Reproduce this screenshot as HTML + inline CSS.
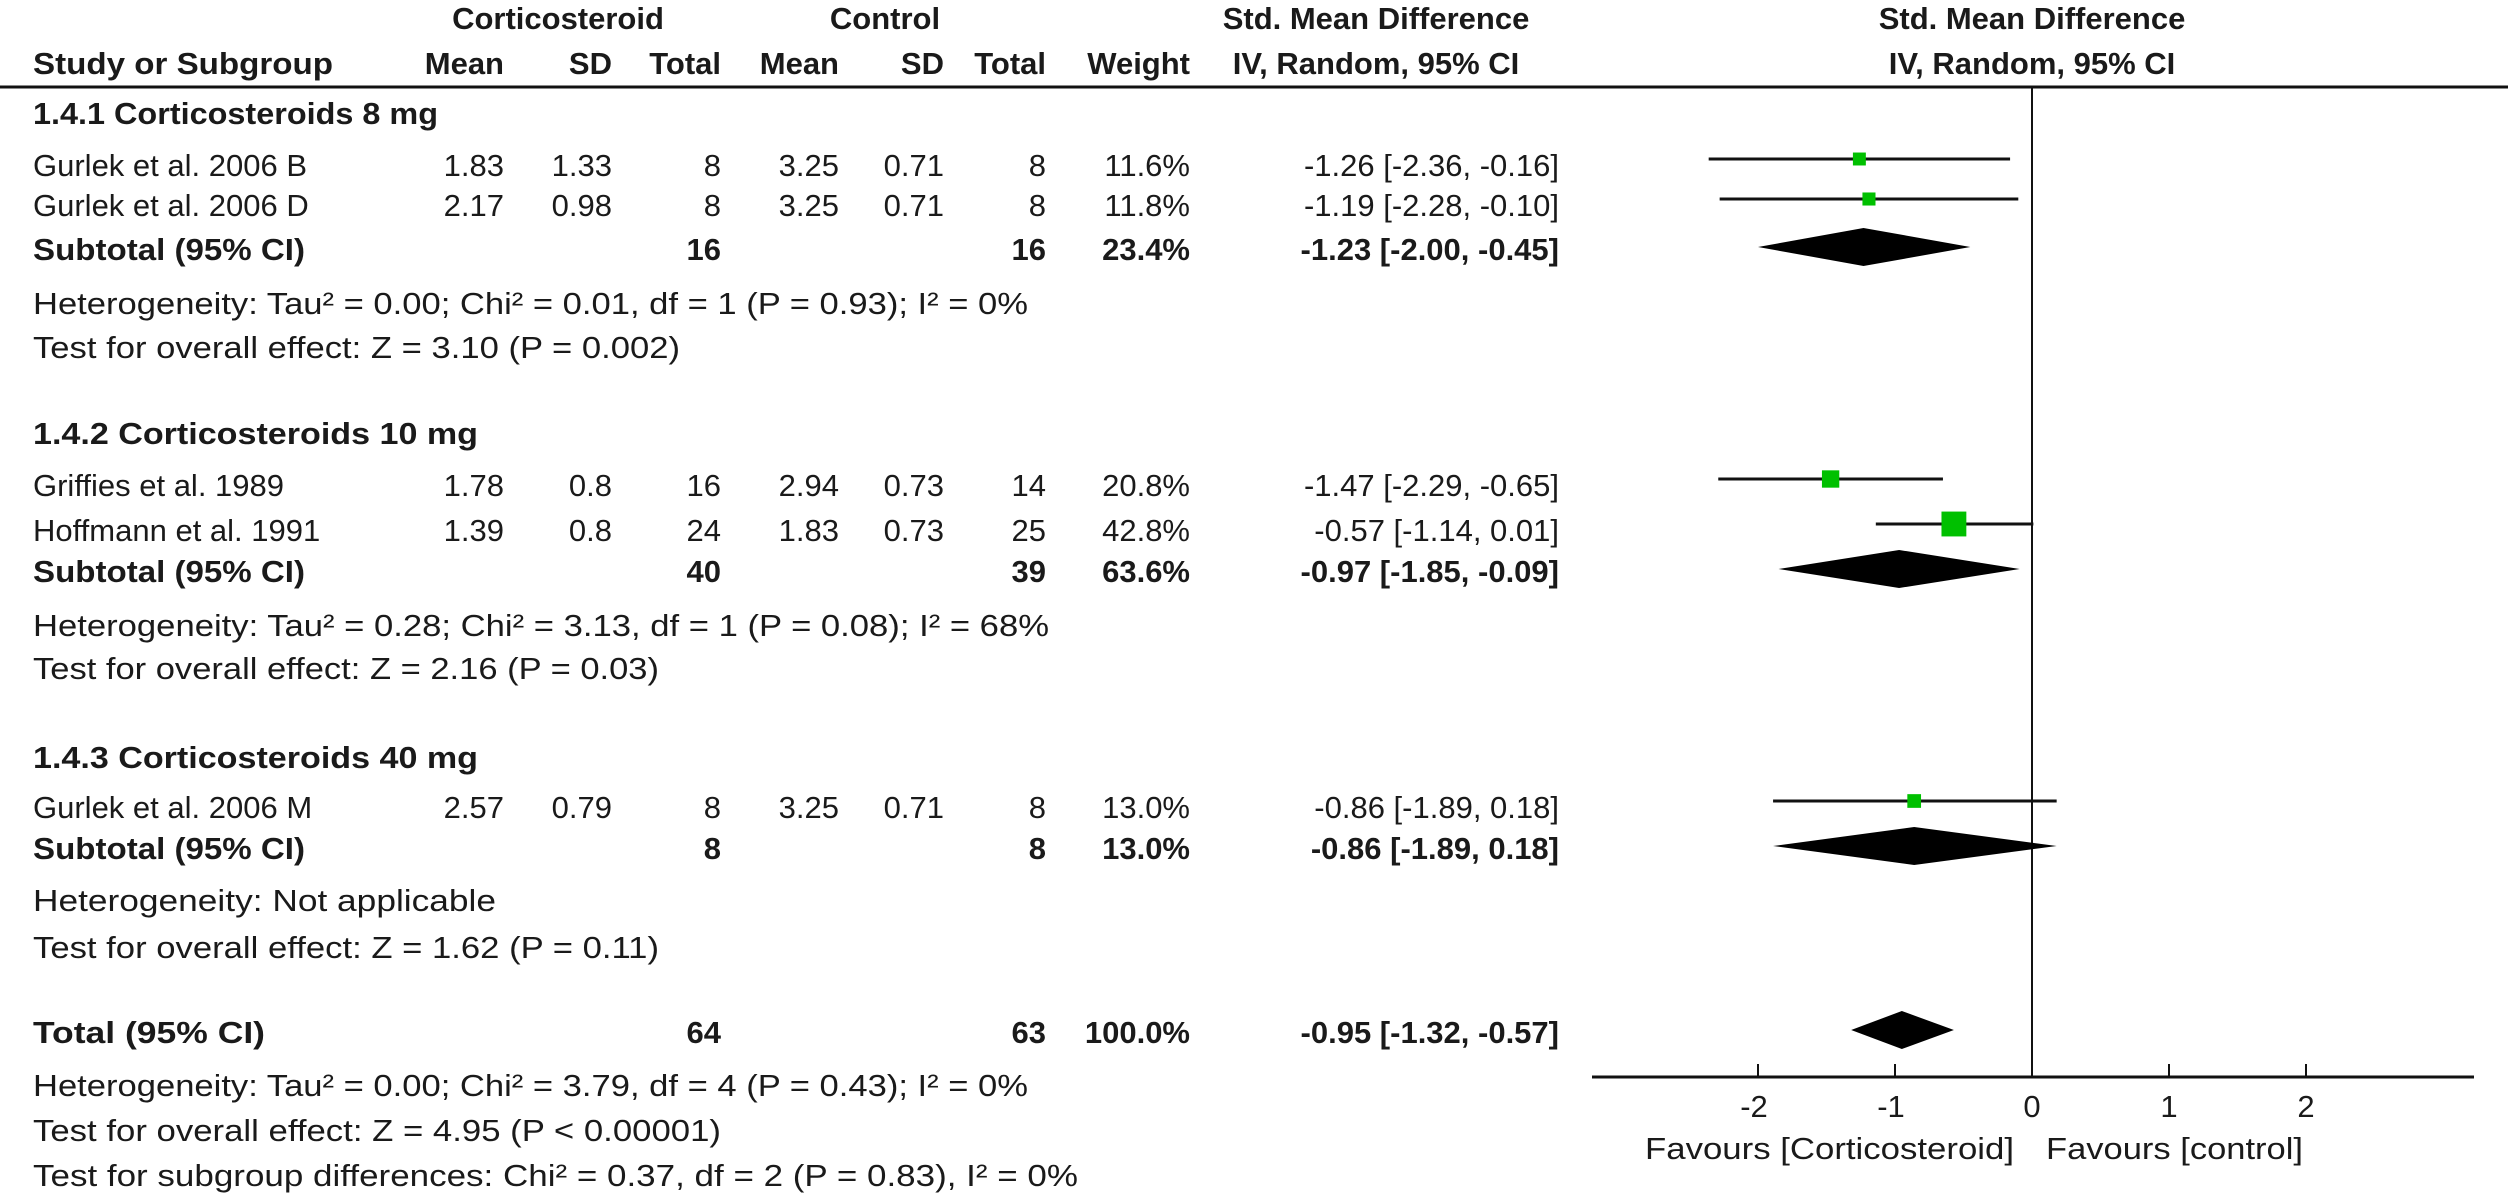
<!DOCTYPE html>
<html><head><meta charset="utf-8"><style>
html,body{margin:0;padding:0;background:#fff;}
svg{display:block;}
text{font-family:"Liberation Sans",Arial,sans-serif;fill:#1a1a1a;}
.b{font-weight:bold;}
</style></head><body>
<svg id="plot" width="2508" height="1196" viewBox="0 0 2508 1196" xmlns="http://www.w3.org/2000/svg"></svg>
<script>
// ----- data -----
const studyNames = ["Gurlek et al. 2006 B","Gurlek et al. 2006 D","Griffies et al. 1989","Hoffmann et al. 1991","Gurlek et al. 2006 M"];
const expMean = ["1.83","2.17","1.78","1.39","2.57"];
const expSD = ["1.33","0.98","0.8","0.8","0.79"];
const expN = [8,8,16,24,8];
const ctlMean = ["3.25","3.25","2.94","1.83","3.25"];
const ctlSD = ["0.71","0.71","0.73","0.73","0.71"];
const ctlN = [8,8,14,25,8];
const studyWeight = [11.6,11.8,20.8,42.8,13.0];
const studySMD = [-1.26,-1.19,-1.47,-0.57,-0.86];
const studyLo = [-2.36,-2.28,-2.29,-1.14,-1.89];
const studyHi = [-0.16,-0.10,-0.65,0.01,0.18];
const subNames = ["Subtotal (95% CI)","Subtotal (95% CI)","Subtotal (95% CI)","Total (95% CI)"];
const subExpN = [16,40,8,64];
const subCtlN = [16,39,8,63];
const subWeight = ["23.4%","63.6%","13.0%","100.0%"];
const subSMD = [-1.23,-0.97,-0.86,-0.95];
const subLo = [-2.00,-1.85,-1.89,-1.32];
const subHi = [-0.45,-0.09,0.18,-0.57];
const xTicks = [-2,-1,0,1,2];

// ----- layout -----
const svg = document.getElementById('plot');
const NS = "http://www.w3.org/2000/svg";
const X0 = 2032, UNIT = 137;
const xs = v => X0 + v*UNIT;
const FS = 31;
function el(tag, attrs, txt){
  const e = document.createElementNS(NS, tag);
  for (const k in attrs) e.setAttribute(k, attrs[k]);
  if (txt !== undefined) e.textContent = txt;
  svg.appendChild(e);
  return e;
}
function t(x, cy, s, name, opts){
  opts = opts || {};
  const a = {x:x, y:cy+11, 'font-size':opts.fs||FS};
  if (opts.anchor) a['text-anchor'] = opts.anchor;
  if (opts.bold) a['class'] = 'b';
  if (opts.len){ a.textLength = opts.len; a.lengthAdjust = 'spacingAndGlyphs'; }
  const e = el('text', a, s);
  
  
  return e;
}
function fmt(v){ return v.toFixed(2); }
function ciText(m,l,h){ return fmt(m)+" ["+fmt(l)+", "+fmt(h)+"]"; }

// headers
t(558,18,"Corticosteroid","header-corticosteroid",{anchor:'middle',bold:true});
t(885,18,"Control","header-control",{anchor:'middle',bold:true});
t(1376,18,"Std. Mean Difference","header-smd-text",{anchor:'middle',bold:true});
t(2032,18,"Std. Mean Difference","header-smd-plot",{anchor:'middle',bold:true});
t(33,63,"Study or Subgroup","header-study",{bold:true,len:300});
t(504,63,"Mean","header-exp-mean",{anchor:'end',bold:true});
t(612,63,"SD","header-exp-sd",{anchor:'end',bold:true});
t(721,63,"Total","header-exp-total",{anchor:'end',bold:true});
t(839,63,"Mean","header-ctl-mean",{anchor:'end',bold:true});
t(944,63,"SD","header-ctl-sd",{anchor:'end',bold:true});
t(1046,63,"Total","header-ctl-total",{anchor:'end',bold:true});
t(1190,63,"Weight","header-weight",{anchor:'end',bold:true});
t(1376,63,"IV, Random, 95% CI","header-ci-text",{anchor:'middle',bold:true});
t(2032,63,"IV, Random, 95% CI","header-ci-plot",{anchor:'middle',bold:true});
let r = el('line',{x1:0,y1:87,x2:2508,y2:87,stroke:'#111','stroke-width':3});



// zero line
let zl = el('line',{x1:xs(0),y1:88,x2:xs(0),y2:1077,stroke:'#111','stroke-width':2});



// groups
const groupTitles = ["1.4.1 Corticosteroids 8 mg","1.4.2 Corticosteroids 10 mg","1.4.3 Corticosteroids 40 mg"];
const groupY = [113,433,757];
const groupStudies = [[0,1],[2,3],[4]];
const studyY = [[165,205],[485,530],[807]];
const subY = [249,571,848];
const hetText = ["Heterogeneity: Tau² = 0.00; Chi² = 0.01, df = 1 (P = 0.93); I² = 0%",
  "Heterogeneity: Tau² = 0.28; Chi² = 3.13, df = 1 (P = 0.08); I² = 68%",
  "Heterogeneity: Not applicable"];
const hetLen = [995,1016,463];
const hetY = [303,625,900];
const testText = ["Test for overall effect: Z = 3.10 (P = 0.002)","Test for overall effect: Z = 2.16 (P = 0.03)","Test for overall effect: Z = 1.62 (P = 0.11)"];
const testLen = [647,626,626];
const testY = [347,668,947];

function diamond(i, cy, name){
  const h = 19;
  const p = el('polygon',{points:[xs(subLo[i])+','+cy, xs(subSMD[i])+','+(cy-h), xs(subHi[i])+','+cy, xs(subSMD[i])+','+(cy+h)].join(' '), fill:'#000'});
  
  
}
function subRow(i, cy, nm){
  t(33,cy,subNames[i],nm+'-label',{bold:true,len: i===3?232:272});
  t(721,cy,String(subExpN[i]),nm+'-exp-total',{anchor:'end',bold:true});
  t(1046,cy,String(subCtlN[i]),nm+'-ctl-total',{anchor:'end',bold:true});
  t(1190,cy,subWeight[i],nm+'-weight',{anchor:'end',bold:true});
  t(1559,cy,ciText(subSMD[i],subLo[i],subHi[i]),nm+'-ci',{anchor:'end',bold:true});
  diamond(i, cy-2, nm+'-diamond');
}

for (let g=0; g<3; g++){
  t(33,groupY[g],groupTitles[g],'subgroup-title-'+(g+1),{bold:true,len: g===0?405:445});
  groupStudies[g].forEach((s,k)=>{
    const cy = studyY[g][k];
    const nm = 'study-'+(s+1);
    t(33,cy,studyNames[s],nm+'-name');
    t(504,cy,expMean[s],nm+'-exp-mean',{anchor:'end'});
    t(612,cy,expSD[s],nm+'-exp-sd',{anchor:'end'});
    t(721,cy,String(expN[s]),nm+'-exp-total',{anchor:'end'});
    t(839,cy,ctlMean[s],nm+'-ctl-mean',{anchor:'end'});
    t(944,cy,ctlSD[s],nm+'-ctl-sd',{anchor:'end'});
    t(1046,cy,String(ctlN[s]),nm+'-ctl-total',{anchor:'end'});
    t(1190,cy,studyWeight[s].toFixed(1)+'%',nm+'-weight',{anchor:'end'});
    t(1559,cy,ciText(studySMD[s],studyLo[s],studyHi[s]),nm+'-ci',{anchor:'end'});
    const my = cy-6;
    const ln = el('line',{x1:xs(studyLo[s]),y1:my,x2:xs(studyHi[s]),y2:my,stroke:'#111','stroke-width':3});
    
    
    const sz = 3.8*Math.sqrt(studyWeight[s]);
    const sq = el('rect',{x:xs(studySMD[s])-sz/2,y:my-sz/2,width:sz,height:sz,fill:'#00c000'});
    
    
  });
  subRow(g, subY[g], 'subtotal-'+(g+1));
  t(33,hetY[g],hetText[g],'heterogeneity-'+(g+1),{len:hetLen[g]});
  t(33,testY[g],testText[g],'overall-effect-'+(g+1),{len:testLen[g]});
}
subRow(3, 1032, 'total');
t(33,1085,"Heterogeneity: Tau² = 0.00; Chi² = 3.79, df = 4 (P = 0.43); I² = 0%",'heterogeneity-total',{len:995});
t(33,1130,"Test for overall effect: Z = 4.95 (P < 0.00001)",'overall-effect-total',{len:688});
t(33,1175,"Test for subgroup differences: Chi² = 0.37, df = 2 (P = 0.83), I² = 0%",'subgroup-differences',{len:1045});

// axis
const ax = el('line',{x1:1592,y1:1077,x2:2474,y2:1077,stroke:'#111','stroke-width':3});


xTicks.forEach(v=>{
  const tk = el('line',{x1:xs(v),y1:1064,x2:xs(v),y2:1077,stroke:'#111','stroke-width':2});
  
  
  t(xs(v)+(v<0?-4:0),1106,String(v),'x-tick-label',{anchor:'middle'});
});
t(2014,1148,"Favours [Corticosteroid]",'favours-corticosteroid',{anchor:'end',len:369});
t(2046,1148,"Favours [control]",'favours-control',{len:257});
</script>
</body></html>
